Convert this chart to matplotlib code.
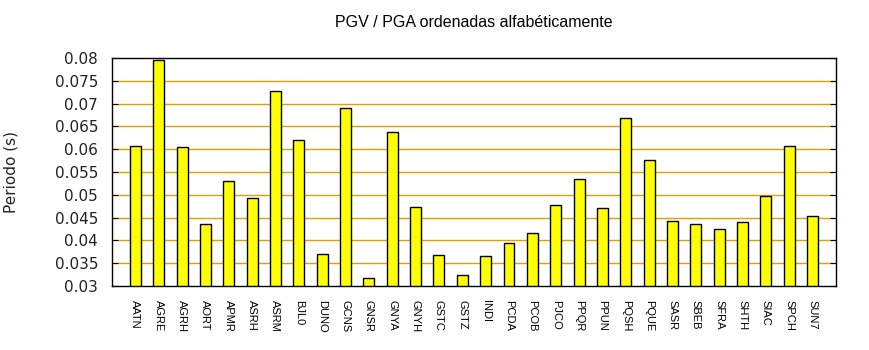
"""
plot.py
PGV / PGA por estacion, ordenadas alfabeticamente.
"""

import matplotlib
matplotlib.use("Agg")
import matplotlib.pyplot as plt
import numpy as np

# =========================
# DATA
# =========================
estaciones = [
    "AATN", "AGRE", "AGRH", "AORT", "APMR", "ASRH", "ASRM", "BJL0", "DUNO",
    "GCNS", "GNSR", "GNYA", "GNYH", "GSTC", "GSTZ", "INDI", "PCDA", "PCOB",
    "PJCO", "PPQR", "PPUN", "PQSH", "PQUE", "SASR", "SBEB", "SFRA", "SHTH",
    "SIAC", "SPCH", "SUN7",
]
periodo = [
    0.0606, 0.0795, 0.0604, 0.0435, 0.0530, 0.0492, 0.0727, 0.0620, 0.0370,
    0.0690, 0.0317, 0.0637, 0.0473, 0.0367, 0.0323, 0.0365, 0.0394, 0.0416,
    0.0477, 0.0534, 0.0470, 0.0668, 0.0576, 0.0442, 0.0435, 0.0424, 0.0440,
    0.0497, 0.0606, 0.0453,
]
yticks = np.arange(0.03, 0.0801, 0.005)
ytick_labels = ["0.03", "0.035", "0.04", "0.045", "0.05", "0.055",
                "0.06", "0.065", "0.07", "0.075", "0.08"]

# =========================
# PLOT
# =========================
fig = plt.figure(figsize=(8.7, 3.5), dpi=100)
ax = fig.add_axes([0.1287, 0.1829, 0.8322, 0.6514])

x = np.arange(len(estaciones))
ax.bar(x, periodo, width=0.47, color="#ffff00", edgecolor="black",
       linewidth=1.0, zorder=3)

ax.set_xlim(-1, len(estaciones))
ax.set_ylim(0.03, 0.08)
ax.set_yticks(yticks)
ax.set_yticklabels(ytick_labels, fontsize=11, color="#222222",
                   family="DejaVu Sans")
ax.set_xticks(x)
ax.set_xticklabels(estaciones, rotation=270, fontsize=8,
                   family="Liberation Sans", va="top", ha="center")
ax.tick_params(axis="x", length=0, pad=10)
ax.tick_params(axis="y", direction="in", length=4, right=True, pad=10)

for y in yticks[1:-1]:
    ax.axhline(y, color="#e0a000", linewidth=1.0, zorder=1)

for s in ax.spines.values():
    s.set_linewidth(1.0)
    s.set_zorder(4)

ax.set_ylabel("Periodo (s)", fontsize=11, color="#222222",
              family="DejaVu Sans", labelpad=26)
ax.set_title("PGV / PGA ordenadas alfabéticamente", fontsize=11.5,
             family="Liberation Sans", pad=22)

fig.savefig("out.png", dpi=100)
